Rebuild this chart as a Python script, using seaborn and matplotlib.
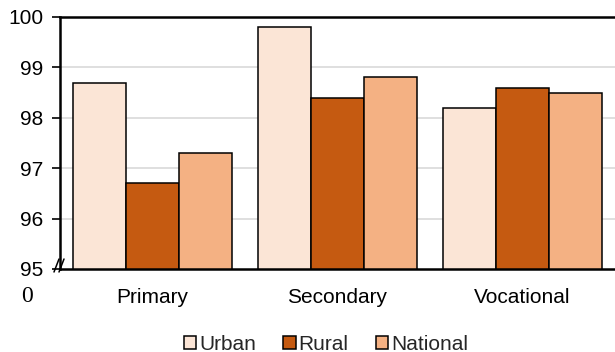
import matplotlib
matplotlib.use("Agg")
import matplotlib.pyplot as plt
import seaborn as sns
import pandas as pd
from matplotlib.patches import Patch

levels = ["Primary", "Secondary", "Vocational"]
areas = ["Urban", "Rural", "National"]
urban = [98.7, 99.8, 98.2]
rural = [96.7, 98.4, 98.6]
national = [97.3, 98.8, 98.5]
colors = ["#FBE5D6", "#C55A11", "#F4B183"]
yticks = [95, 96, 97, 98, 99, 100]

rows = []
for area, vals in zip(areas, [urban, rural, national]):
    for lvl, v in zip(levels, vals):
        rows.append({"level": lvl, "area": area, "value": v})
df = pd.DataFrame(rows)

sns.set_style("white")
plt.rcParams["font.family"] = ["Liberation Sans", "DejaVu Sans"]

fig = plt.figure(figsize=(6.15, 3.52), dpi=100)
ax = fig.add_axes([60 / 615, 1 - 269 / 352, 555 / 615, 252 / 352])

sns.barplot(data=df, x="level", y="value", hue="area", order=levels,
            hue_order=areas, palette=colors, saturation=1, width=0.86, gap=0,
            edgecolor="black", linewidth=1.1, errorbar=None,
            legend=False, ax=ax, zorder=3)

ax.set_ylim(95, 100)
ax.set_xlim(-0.5, 2.5)
ax.set_yticks(yticks)
ax.set_yticklabels([str(t) for t in yticks])
ax.set_xlabel("")
ax.set_ylabel("")

for t in yticks[1:-1]:
    ax.axhline(t, color="#D9D9D9", linewidth=1.2, zorder=1)

for side in ["top", "left", "bottom"]:
    ax.spines[side].set_visible(True)
    ax.spines[side].set_color("black")
    ax.spines[side].set_linewidth(1.8)
    ax.spines[side].set_zorder(6)
ax.spines["right"].set_visible(False)

ax.tick_params(axis="y", which="major", left=True, length=6, width=1.2,
               color="black", labelsize=15, pad=6, labelcolor="black")
ax.tick_params(axis="x", which="major", bottom=False, labelsize=15, pad=10,
               labelcolor="black")

# axis break mark at the foot of the value axis
px_x = lambda p: (p - 60) / 555
px_y = lambda p: (269 - p) / 252
for x0 in (54, 59):
    ax.plot([px_x(x0), px_x(x0 + 5)], [px_y(272), px_y(259)],
            transform=ax.transAxes, color="black", linewidth=1.1,
            clip_on=False, zorder=7)

# origin label beneath the lowest tick
fig.text(27 / 615, 1 - 296 / 352, "0", ha="center", va="center",
         fontsize=17, family="Liberation Serif", color="black")

handles = [Patch(facecolor=c, edgecolor="black", linewidth=1.1) for c in colors]
fig.legend(handles, areas, loc="center", bbox_to_anchor=(326 / 615, 1 - 344 / 352),
           ncol=3, frameon=False, fontsize=15, handlelength=0.6,
           handleheight=0.6, handletextpad=0.15, columnspacing=1.3,
           borderaxespad=0, borderpad=0)

fig.savefig("out.png", dpi=100)
